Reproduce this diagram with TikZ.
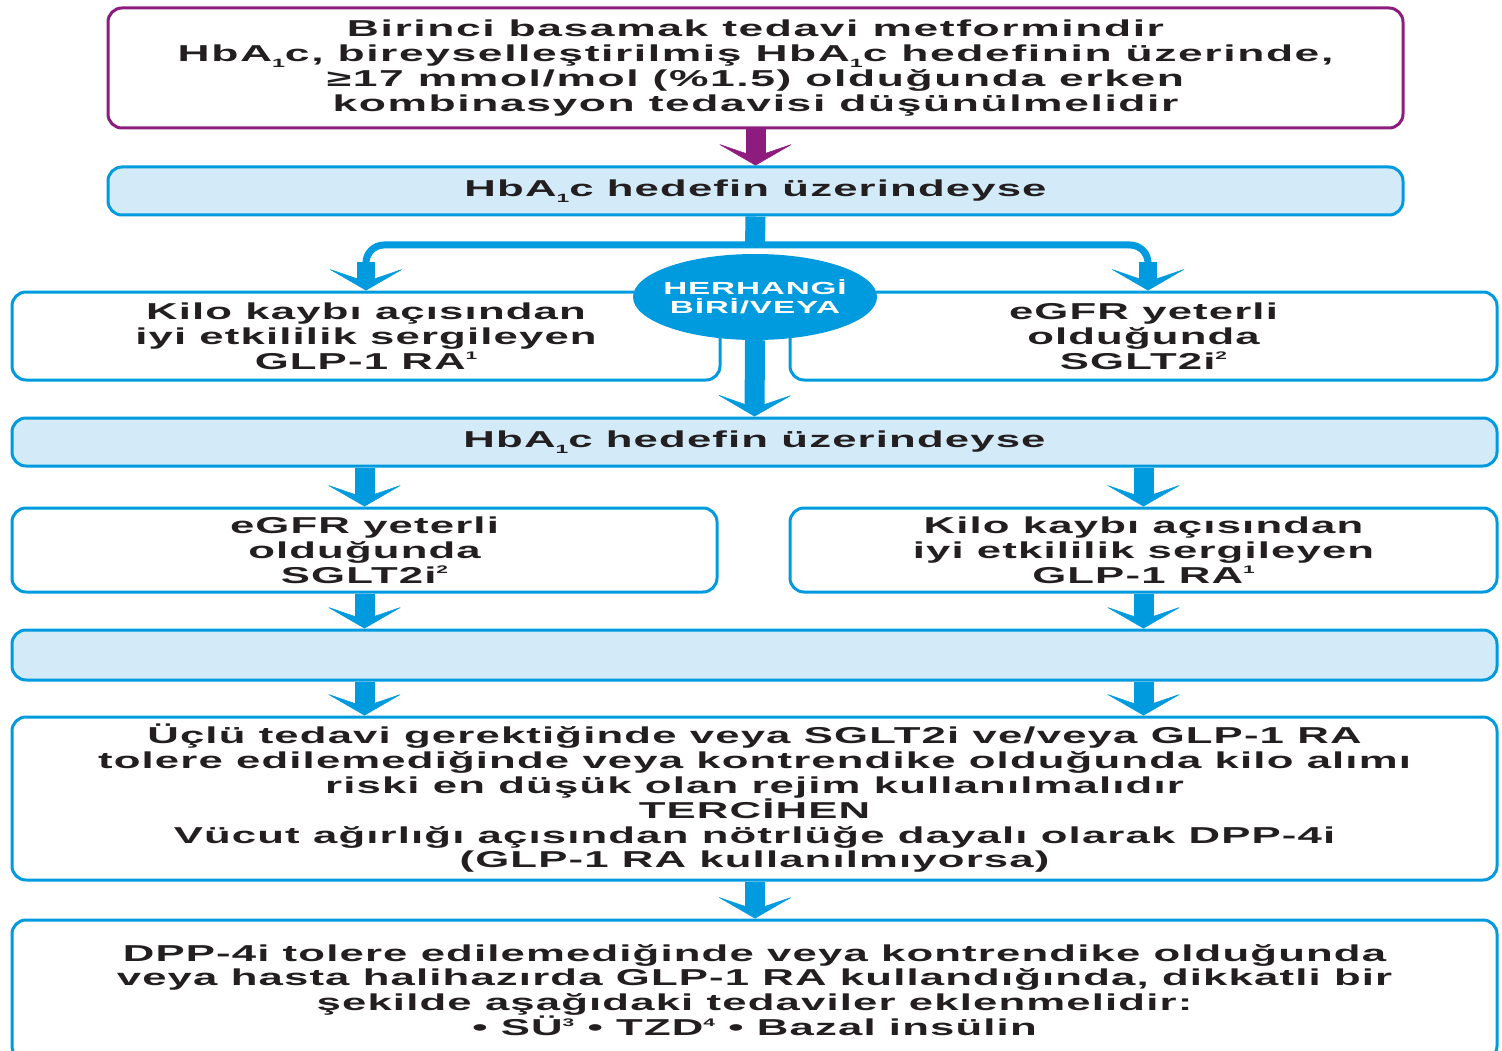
\documentclass[tikz,border=0pt]{standalone}
\usepackage{fontspec}
\setmainfont{Liberation Sans}[FakeStretch=1.9,LetterSpace=5]
\newfontfamily\widefont{Liberation Sans}[FakeStretch=1.93,LetterSpace=7]
\usetikzlibrary{arrows.meta,shapes.geometric}
\definecolor{zblue}{HTML}{009ADE}
\definecolor{zlight}{HTML}{D3EAF8}
\definecolor{zpurple}{HTML}{8E1B7E}
\definecolor{ztext}{HTML}{231F20}
\newcommand{\zsup}[1]{\raisebox{0.75ex}{\fontsize{11}{11}\selectfont #1}}
\newcommand{\zsub}[1]{\raisebox{-0.45ex}{\fontsize{12}{12}\selectfont #1}}
\tikzset{zbox/.style={
  draw=zblue,
  fill=white,
  rounded corners=14,
  line width=3,
  text=ztext,
  align=center,
  inner sep=0,
  font=\bfseries\fontsize{23}{24.8}\selectfont}}
\tikzset{zbar/.style={
  zbox,
  fill=zlight}}
\tikzset{zarrow/.style={
  draw=zblue,
  line width=20,
  -{Stealth[length=22pt,width=76pt,inset=13pt,line width=0.5pt]}}}
\tikzset{zbranch/.style={
  draw=zblue,
  line width=7,
  rounded corners=18}}

\begin{document}
\begin{tikzpicture}[x=1pt,y=-1pt,
  zoval/.style={
    ellipse,
    fill=zblue,
    text=white,
    inner xsep=-14,
    inner ysep=0,
    minimum width=244,
    minimum height=86,
    align=center,
    font=\bfseries\fontsize{17.5}{19}\selectfont}
]
  \useasboundingbox (0,0) rectangle (1502,1051);
  \clip (0,0) rectangle (1502,1051);

  %% First line
  \node[zbox,draw=zpurple,minimum width=1295,minimum height=120,
    font=\widefont\bfseries\fontsize{23}{24.8}\selectfont] (first) at (755.5,68)
    {Birinci basamak tedavi metformindir\\
     HbA\zsub{1}c, bireyselleştirilmiş HbA\zsub{1}c hedefinin üzerinde,\\
     ≥17 mmol/mol (\%1.5) olduğunda erken\\
     kombinasyon tedavisi düşünülmelidir};
  \node[zbar,minimum width=1295,minimum height=48] (above1) at (755.5,191)
    {HbA\zsub{1}c hedefin üzerindeyse};

  %% Second line
  \node[zbox,minimum width=708,minimum height=88] (glpA) at (366,336)
    {Kilo kaybı açısından\\ iyi etkililik sergileyen\\ GLP-1 RA\zsup{1}};
  \node[zbox,minimum width=707,minimum height=88] (sgltA) at (1143.5,336)
    {eGFR yeterli\\ olduğunda\\ SGLT2i\zsup{2}};
  \node[zbar,minimum width=1485,minimum height=48] (above2) at (754.5,442)
    {HbA\zsub{1}c hedefin üzerindeyse};

  %% Third line
  \node[zbox,minimum width=705,minimum height=84] (sgltB) at (364.5,550)
    {eGFR yeterli\\ olduğunda\\ SGLT2i\zsup{2}};
  \node[zbox,minimum width=707,minimum height=84] (glpB) at (1143.5,550)
    {Kilo kaybı açısından\\ iyi etkililik sergileyen\\ GLP-1 RA\zsup{1}};
  \node[zbar,minimum width=1485,minimum height=50] (above3) at (754.5,655) {};

  %% Last boxes
  \node[zbox,minimum width=1485,minimum height=163] (triple) at (754.5,798.5)
    {Üçlü tedavi gerektiğinde veya SGLT2i ve/veya GLP-1 RA\\
     tolere edilemediğinde veya kontrendike olduğunda kilo alımı\\
     riski en düşük olan rejim kullanılmalıdır\\
     TERCİHEN\\
     Vücut ağırlığı açısından nötrlüğe dayalı olarak DPP-4i\\
     (GLP-1 RA kullanılmıyorsa)};
  \node[zbox,minimum width=1485,minimum height=140] (last) at (754.5,990)
    {DPP-4i tolere edilemediğinde veya kontrendike olduğunda\\
     veya hasta halihazırda GLP-1 RA kullandığında, dikkatli bir\\
     şekilde aşağıdaki tedaviler eklenmelidir:\\
     • SÜ\zsup{3} • TZD\zsup{4} • Bazal insülin};

  %% Connectors
  \draw[zarrow,draw=zpurple] (first.south) -- (above1.north);
  \coordinate (split) at (755,245);
  \coordinate (dropL) at (366,262);
  \coordinate (dropR) at (1148,262);
  \draw[zblue,line width=20] (above1.south) -- (split);
  \draw[zbranch] (dropL) |- (split) -| (dropR);
  \draw[zarrow,line width=18] (dropL) -- (dropL |- glpA.north);
  \draw[zarrow,line width=18] (dropR) -- (dropR |- sgltA.north);

  \node[zoval] (either) at (755,297) {HERHANGİ\\ BİRİ/VEYA};
  \draw[zarrow] (either.south) -- (above2.north);

  \draw[zarrow] (above2.south -| sgltB) -- (sgltB.north);
  \draw[zarrow] (above2.south -| glpB) -- (glpB.north);
  \draw[zarrow] (sgltB.south) -- (above3.north -| sgltB);
  \draw[zarrow] (glpB.south) -- (above3.north -| glpB);
  \draw[zarrow] (above3.south -| sgltB) -- (triple.north -| sgltB);
  \draw[zarrow] (above3.south -| glpB) -- (triple.north -| glpB);
  \draw[zarrow] (triple.south -| either) -- (last.north -| either);

\end{tikzpicture}
\end{document}
